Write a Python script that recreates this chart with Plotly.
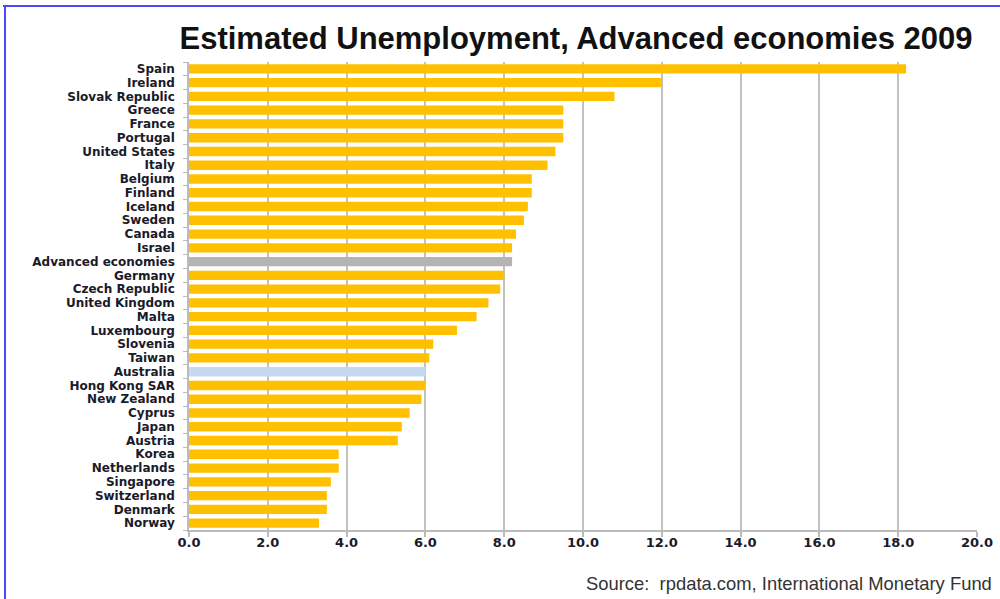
import plotly.graph_objects as go

countries = ["Spain", "Ireland", "Slovak Republic", "Greece", "France", "Portugal",
             "United States", "Italy", "Belgium", "Finland", "Iceland", "Sweden",
             "Canada", "Israel", "Advanced economies", "Germany", "Czech Republic",
             "United Kingdom", "Malta", "Luxembourg", "Slovenia", "Taiwan", "Australia",
             "Hong Kong SAR", "New Zealand", "Cyprus", "Japan", "Austria", "Korea",
             "Netherlands", "Singapore", "Switzerland", "Denmark", "Norway"]
unemployment = [18.2, 12.0, 10.8, 9.5, 9.5, 9.5, 9.3, 9.1, 8.7, 8.7, 8.6, 8.5,
                8.3, 8.2, 8.2, 8.0, 7.9, 7.6, 7.3, 6.8, 6.2, 6.1, 6.0,
                6.0, 5.9, 5.6, 5.4, 5.3, 3.8, 3.8, 3.6, 3.5, 3.5, 3.3]
x_ticks = [0, 2, 4, 6, 8, 10, 12, 14, 16, 18, 20]
x_tick_labels = ["0.0", "2.0", "4.0", "6.0", "8.0", "10.0", "12.0", "14.0", "16.0", "18.0", "20.0"]

highlight = {"Advanced economies": "#B4B4B4", "Australia": "#C6D9F1"}
colors = [highlight.get(c, "#FFC000") for c in countries]

W, H = 1000, 599
ML, MR, MT, MB = 189, 23, 62, 69
PW, PH = W - ML - MR, H - MT - MB

fig = go.Figure(go.Bar(
    x=unemployment, y=countries, orientation="h",
    marker=dict(color=colors, line=dict(width=0)),
    width=0.68,
))

def px_to_paper_x(px):
    return (px - ML) / PW

def px_to_paper_y(py):
    return (H - MB - py) / PH

fig.update_layout(
    width=W, height=H,
    margin=dict(l=ML, r=MR, t=MT, b=MB, autoexpand=False),
    paper_bgcolor="white", plot_bgcolor="white",
    showlegend=False,
    title=dict(text="<b>Estimated Unemployment, Advanced economies 2009</b>",
               x=px_to_paper_x(576), xref="paper", xanchor="center",
               y=1 - 38 / H, yanchor="middle",
               font=dict(family="Liberation Sans, Arial", size=31, color="#111111")),
    xaxis=dict(range=[0, 20], tickmode="array", tickvals=x_ticks, ticktext=x_tick_labels,
               automargin=False,
               showgrid=True, gridcolor="rgba(120,120,120,0.45)", gridwidth=1.6,
               showline=True, linecolor="#BBBBBB", linewidth=1.5,
               ticks="outside", ticklen=5, tickcolor="#BBBBBB", tickwidth=1.5,
               ticklabelstandoff=-5, layer="above traces",
               tickfont=dict(family="DejaVu Sans", size=13, color="#1A1A2A", weight="bold"),
               zeroline=False, fixedrange=True),
    yaxis=dict(categoryorder="array", categoryarray=countries, autorange="reversed",
               tickmode="array", tickvals=countries, ticktext=countries,
               automargin=False,
               showline=True, linecolor="#BBBBBB", linewidth=1.5,
               ticks="outside", ticklen=4, tickcolor="#BBBBBB", tickson="boundaries",
               ticklabelstandoff=10,
               tickfont=dict(family="DejaVu Sans", size=12, color="#1A1A2A", weight="bold"),
               showgrid=False, fixedrange=True),
    bargap=0.32,
)

fig.add_annotation(text="Source:  rpdata.com, International Monetary Fund",
                   xref="paper", yref="paper", x=px_to_paper_x(994), y=px_to_paper_y(583),
                   xanchor="right", yanchor="middle", showarrow=False,
                   font=dict(family="Liberation Sans, Arial", size=18.4, color="#333333"))

# partial blue frame (top and left edges)
fig.add_shape(type="line", xref="paper", yref="paper",
              x0=px_to_paper_x(3), x1=px_to_paper_x(W + 2),
              y0=px_to_paper_y(6), y1=px_to_paper_y(6),
              line=dict(color="#4B4BF5", width=2))
fig.add_shape(type="line", xref="paper", yref="paper",
              x0=px_to_paper_x(5), x1=px_to_paper_x(5),
              y0=px_to_paper_y(5), y1=px_to_paper_y(H + 2),
              line=dict(color="#4B4BF5", width=2))

fig.write_html("out.html", config={"displayModeBar": False},
               post_script="document.body.style.margin='0';document.body.style.overflow='hidden';")
